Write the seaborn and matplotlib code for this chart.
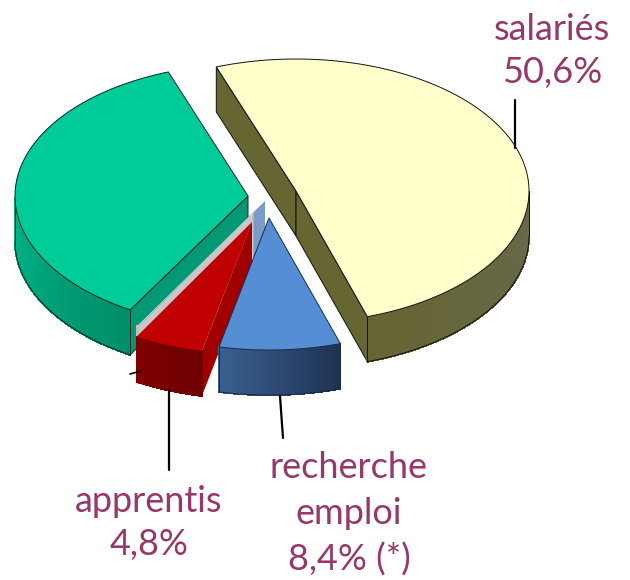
import numpy as np
import matplotlib
matplotlib.use("Agg")
import matplotlib.pyplot as plt
import seaborn as sns

# parts du camembert, dans le sens horaire a partir du haut
categories = ["salariés", "recherche emploi", "apprentis", "autre 1", "autre 2", "autre 3"]
parts = [50.6, 8.4, 4.8, 0.1, 0.1, 36.0]

# couleurs : dessus, tranche coupee, bord gauche et droit de la paroi
top_colors = ["#FFFFCC", "#558ED5", "#C00000", "#D0D0D0", "#7A9CC6", "#00CC99"]
cut_colors = ["#666633", "#2F4F7F", "#A00000", "#C8C8C8", "#7A9CC6", "#009973"]
wall_left = ["#666633", "#3A6090", "#800000", "#C0C0C0", "#7A9CC6", "#00B58A"]
wall_right = ["#68684E", "#1F3355", "#6E0000", "#C0C0C0", "#7A9CC6", "#008F68"]
edge_colors = ["#111111", "#1A2A44", "none", "none", "none", "#06261C"]

# sommet de chaque part une fois eclatee (pixels)
apex_x = [296, 269, 252, 253.5, 265, 248]
apex_y = [191, 218, 222, 212, 201, 196]
# ordre de dessin, du fond vers l'avant
layers = [5, 4, 3, 2, 0, 1]

start_angle = 110.0
rx, ry = 233, 132
depth = 45
text_color = "#96386A"

sns.set_theme(style="white")
plt.rcParams["font.family"] = ["Lato", "DejaVu Sans"]

fig, ax = plt.subplots(figsize=(6.3, 5.8), dpi=100)
fig.subplots_adjust(0, 0, 1, 1)
ax.set_xlim(0, 630)
ax.set_ylim(580, 0)
ax.axis("off")


def draw_slice(i, a, b):
    cx, cy = apex_x[i], apex_y[i]
    z = layers[i] * 10
    t = np.radians(np.linspace(a, b, 120))
    px = cx + rx * np.cos(t)
    py = cy - ry * np.sin(t)
    edge = edge_colors[i]
    lw = 0.7 if edge != "none" else 0

    # parois des coupes, visibles seulement si elles regardent vers l'avant
    for ang, visible in [(a, np.cos(np.radians(a)) < 0), (b, np.cos(np.radians(b)) > 0)]:
        if visible:
            ex = cx + rx * np.cos(np.radians(ang))
            ey = cy - ry * np.sin(np.radians(ang))
            ax.fill([cx, ex, ex, cx], [cy, ey, ey + depth, cy + depth],
                    facecolor=cut_colors[i], edgecolor=edge, linewidth=lw, zorder=z + 1)

    # paroi exterieure en petits morceaux pour le degrade
    front = np.sin(t) < 0
    if front.sum() > 1:
        fx, fy = px[front], py[front]
        order = np.argsort(fx)
        fx, fy = fx[order], fy[order]
        grad = sns.blend_palette([wall_left[i], wall_right[i]], len(fx) - 1)
        for k in range(len(fx) - 1):
            ax.fill([fx[k], fx[k + 1], fx[k + 1], fx[k]],
                    [fy[k], fy[k + 1], fy[k + 1] + depth, fy[k] + depth],
                    facecolor=grad[k], edgecolor=grad[k], linewidth=0.8,
                    antialiased=False, zorder=z + 2)
        if edge != "none":
            ax.plot(fx, fy + depth, color=edge, lw=0.7, zorder=z + 3)
            ax.plot([fx[0], fx[0]], [fy[0], fy[0] + depth], color=edge, lw=0.7, zorder=z + 3)
            ax.plot([fx[-1], fx[-1]], [fy[-1], fy[-1] + depth], color=edge, lw=0.7, zorder=z + 3)

    # dessus
    ax.fill(np.r_[cx, px], np.r_[cy, py], facecolor=top_colors[i],
            edgecolor=edge, linewidth=lw, zorder=z + 4)


angle = start_angle
for i, p in enumerate(parts):
    draw_slice(i, angle, angle - p * 3.6)
    angle -= p * 3.6

# traits de rappel
ax.plot([515, 515], [100, 148], color="black", lw=1.6, zorder=100)
ax.plot([169, 169], [390, 470], color="black", lw=1.6, zorder=100)
ax.plot([280, 283], [396, 438], color="black", lw=1.6, zorder=100)
ax.plot([130, 141], [374, 371], color="black", lw=1.2, zorder=100)

fs = 26
ax.text(552, 29, "salariés", color=text_color, fontsize=fs, ha="center", va="center")
ax.text(552, 72, "50,6%", color=text_color, fontsize=fs, ha="center", va="center")
ax.text(349, 468, "recherche", color=text_color, fontsize=fs, ha="center", va="center")
ax.text(349, 514, "emploi", color=text_color, fontsize=fs, ha="center", va="center")
ax.text(349, 560, "8,4% (*)", color=text_color, fontsize=fs, ha="center", va="center")
ax.text(149, 501, "apprentis", color=text_color, fontsize=fs, ha="center", va="center")
ax.text(149, 545, "4,8%", color=text_color, fontsize=fs, ha="center", va="center")

fig.savefig("out.png", dpi=100, facecolor="white")
